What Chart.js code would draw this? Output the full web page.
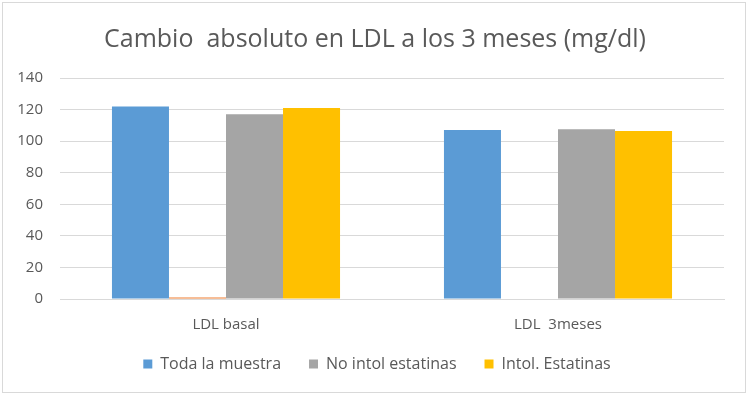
<!DOCTYPE html>
<html>
<head>
<meta charset="utf-8">
<script src="https://cdn.jsdelivr.net/npm/chart.js@4/dist/chart.umd.min.js"></script>
<style>
  html, body { margin: 0; padding: 0; background: #fff; }
  #marco { position: absolute; left: 2px; top: 2px; width: 744px; height: 391px; border: 1px solid #d9d9d9; box-sizing: border-box; }
  #wrap { position: absolute; left: 0; top: 0; width: 750px; height: 397px; }
</style>
</head>
<body>
<div id="marco"></div>
<div id="wrap"><canvas id="grafico"></canvas></div>
<script>
const categorias = ['LDL basal', 'LDL  3meses'];
const series = ['Toda la muestra', '', 'No intol estatinas', 'Intol. Estatinas'];
const valoresToda = [122, 107];
const valoresOculta = [1, 0];
const valoresNoIntol = [117, 107.5];
const valoresIntol = [121, 106.5];
const colores = ['#5B9BD5', '#ED7D31', '#A5A5A5', '#FFC000'];

const texto = '#595959';
const fuente = "'Open Sans', 'Liberation Sans', sans-serif";

const datos = [valoresToda, valoresOculta, valoresNoIntol, valoresIntol];

// centra el titulo en todo el lienzo y acerca la leyenda al eje
const ajuste = {
    id: 'ajuste',
    afterLayout(chart) {
        chart.titleBlock.left += 14;
        chart.legend.left += 9;
        chart.legend.right += 9;
        chart.legend.top -= 15;
        chart.legend.bottom -= 15;
    }
};

new Chart(document.getElementById('grafico'), {
    type: 'bar',
    data: {
        labels: categorias,
        datasets: datos.map((d, i) => ({
            label: series[i],
            data: d,
            backgroundColor: colores[i],
            borderWidth: 0,
            categoryPercentage: 0.687,
            barPercentage: 1
        }))
    },
    options: {
        responsive: true,
        maintainAspectRatio: false,
        animation: false,
        layout: { padding: { left: 12, right: 26, top: 25, bottom: 0 } },
        plugins: {
            title: {
                display: true,
                text: 'Cambio  absoluto en LDL a los 3 meses (mg/dl)',
                color: texto,
                font: { family: fuente, size: 25, weight: 'normal' },
                padding: { top: 0, bottom: 23 }
            },
            legend: {
                position: 'bottom',
                labels: {
                    color: texto,
                    font: { family: fuente, size: 16 },
                    boxWidth: 9,
                    boxHeight: 9,
                    padding: 28,
                    filter: item => item.text !== ''
                }
            },
            tooltip: { enabled: false }
        },
        scales: {
            x: {
                grid: { display: false },
                border: { color: '#d9d9d9' },
                ticks: { color: texto, font: { family: fuente, size: 15 }, padding: 9 }
            },
            y: {
                min: 0,
                max: 140,
                ticks: { stepSize: 20, color: texto, font: { family: fuente, size: 15 }, padding: 17 },
                grid: { color: '#d9d9d9', drawTicks: false },
                border: { display: false },
                afterFit: escala => { escala.width = 48; }
            }
        }
    },
    plugins: [ajuste]
});
</script>
</body>
</html>
